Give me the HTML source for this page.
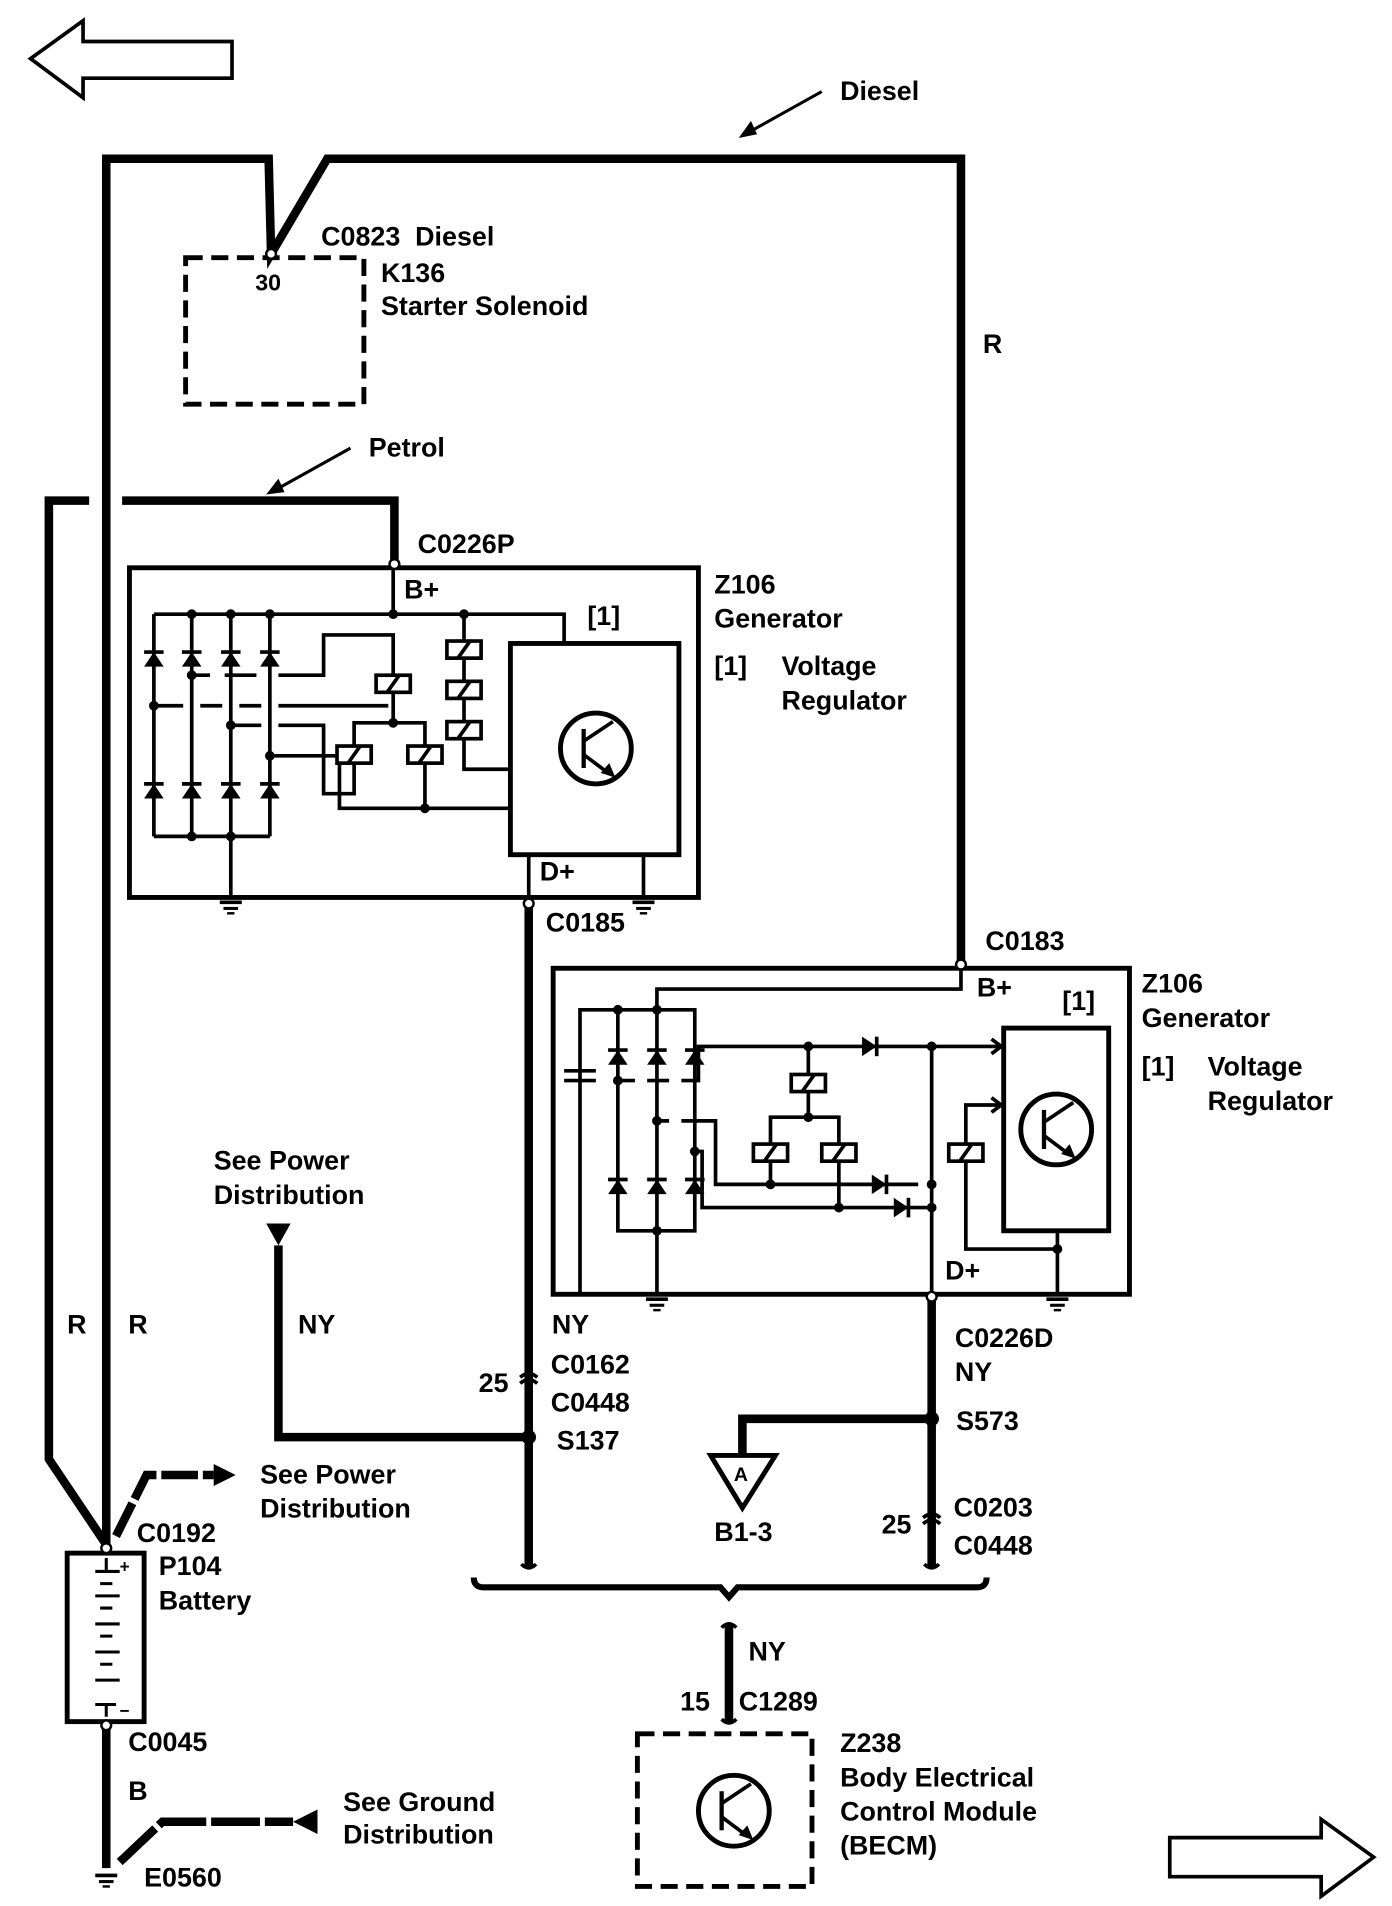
<!DOCTYPE html>
<html><head><style>html,body{margin:0;padding:0;background:#fff}svg{display:block}</style></head><body>
<svg width="1392" height="1906" viewBox="0 0 1140 1561" xmlns="http://www.w3.org/2000/svg" font-family="Liberation Sans, sans-serif" font-weight="bold" font-size="22">
<defs>
<g id="dd"><polygon points="-8,6 8,6 0,-6" fill="#000"/><line x1="-8" y1="-6" x2="8" y2="-6" stroke="#000" stroke-width="3"/></g>
<g id="dr"><polygon points="-6,-8 -6,8 6,0" fill="#000"/><line x1="6" y1="-8" x2="6" y2="8" stroke="#000" stroke-width="3"/></g>
<g id="rl"><rect x="-14" y="-7" width="28" height="14" fill="#fff" stroke="#000" stroke-width="3"/><line x1="-5" y1="7" x2="5" y2="-7" stroke="#000" stroke-width="3"/></g>
<g id="gnd"><line x1="-9" y1="2" x2="9" y2="2" stroke="#000" stroke-width="3"/><line x1="-6" y1="7" x2="6" y2="7" stroke="#000" stroke-width="2.5"/><line x1="-3" y1="11" x2="3" y2="11" stroke="#000" stroke-width="2"/></g>
<g id="tr"><circle r="29" fill="none" stroke="#000" stroke-width="4"/><line x1="-10" y1="-16" x2="-10" y2="16" stroke="#000" stroke-width="3.5"/><line x1="-10" y1="-6" x2="14" y2="-22" stroke="#000" stroke-width="3"/><line x1="-10" y1="5" x2="10" y2="20" stroke="#000" stroke-width="3"/><polygon points="16,24 4,20 11,12" fill="#000"/></g>
</defs>
<g fill="none" stroke="#000">
<polygon points="25,48 68,17 68,34 190,34 190,64 68,64 68,80" stroke-width="3"/>
<polygon points="958,1505 1082,1505 1082,1490 1125,1521 1082,1553 1082,1537 958,1537" stroke-width="3"/>
<g stroke-width="7">
<polyline points="87,1265 87,130 220,130 222,208 268,130 787,130 787,790"/>
<polyline points="100,410 323,410 323,462"/>
<polyline points="73,410 40,410 40,1195 87,1265"/>
<line x1="433" y1="740" x2="433" y2="1283"/>
<line x1="763" y1="1060" x2="763" y2="1283"/>
<polyline points="763,1162 608,1162 608,1192"/>
<polyline points="228,1020 228,1177 433,1177"/>
<line x1="597" y1="1330" x2="597" y2="1410"/>
<line x1="87" y1="1410" x2="87" y2="1530"/>
</g>
<polyline points="95,1258 120,1208 175,1208" stroke-width="7" stroke-dasharray="30,4"/>
<polyline points="98,1525 133,1492 240,1492" stroke-width="7" stroke-dasharray="40,4"/>
<path d="M427,1281 q6,6 12,0" stroke-width="3"/><path d="M757,1281 q6,6 12,0" stroke-width="3"/>
<path d="M591,1333 q6,-6 12,0" stroke-width="3"/><path d="M591,1408 q6,6 12,0" stroke-width="3"/>
<path d="M426,1128 q7,-6 14,0 M426,1133 q7,-6 14,0" stroke-width="3"/>
<path d="M756,1243 q7,-6 14,0 M756,1248 q7,-6 14,0" stroke-width="3"/>
<path d="M388,1292 q0,8 8,8 L590,1300 l7,8 l7,-8 L800,1300 q8,0 8,-8" stroke-width="5"/>
<line x1="673" y1="75" x2="612" y2="109" stroke-width="2.5"/>
<line x1="287" y1="367" x2="226" y2="401" stroke-width="2.5"/>
<rect x="152" y="211" width="146" height="120" stroke-width="4" stroke-dasharray="14,7"/>
<rect x="522" y="1420" width="143" height="125" stroke-width="4" stroke-dasharray="14,7"/>
<rect x="106" y="465" width="466" height="270" stroke-width="4"/>
<rect x="418" y="527" width="138" height="173" stroke-width="4"/>
<g stroke-width="3">
<polyline points="126,503 462,503 462,527"/>
<line x1="322" y1="462" x2="322" y2="503"/>
<line x1="126" y1="503" x2="126" y2="685"/><line x1="157" y1="503" x2="157" y2="685"/><line x1="189" y1="503" x2="189" y2="735"/><line x1="221" y1="503" x2="221" y2="685"/>
<line x1="126" y1="685" x2="221" y2="685"/>
<path d="M157,553 H172 M184,553 H210 M228,553 H265 V520 H322 V592"/>
<path d="M126,578 H150 M164,578 H182 M196,578 H214 M228,578 H318"/>
<path d="M189,594 H214 M228,594 H265 V650 H290 V618"/>
<polyline points="290,618 290,592 348,592 348,662"/>
<path d="M221,619 H278 V662 H418"/>
<polyline points="380,503 380,630 418,630"/>
<line x1="433" y1="700" x2="433" y2="735"/><line x1="527" y1="700" x2="527" y2="735"/>
</g>
<rect x="453" y="793" width="472" height="267" stroke-width="4"/>
<rect x="822" y="842" width="86" height="166" stroke-width="4"/>
<g stroke-width="3">
<polyline points="787,790 787,810 538,810 538,827"/>
<polyline points="475,1060 475,827 569,827 569,1008 506,1008 506,827"/>
<line x1="538" y1="827" x2="538" y2="1060"/>
<path d="M506,885 H520 M530,885 H548 M558,885 H572 V857 H818"/>
<path d="M538,918 H548 M558,918 H586 V970 H752 M762,970 H763"/>
<path d="M569,943 H575 V989 H763"/>
<polyline points="662,857 662,915"/><polyline points="631,970 631,915 687,915 687,989"/>
<line x1="763" y1="857" x2="763" y2="1060"/>
<polyline points="818,905 791,905 791,1023 866,1023"/>
<line x1="866" y1="1008" x2="866" y2="1060"/>
<path d="M812,851 l8,6 l-8,6 M812,899 l8,6 l-8,6"/>
</g>
<line x1="462" y1="877" x2="488" y2="877" stroke-width="3"/><line x1="462" y1="885" x2="488" y2="885" stroke-width="3"/>
<rect x="55" y="1272" width="63" height="138" stroke-width="4"/>
<g stroke-width="2.5"><path d="M87,1276 V1287 M78,1287 H98 M82,1297 H92 M78,1307 H98 M82,1317 H92 M78,1330 H98 M82,1340 H92 M78,1353 H98 M82,1363 H92 M78,1376 H98 M78,1396 H95 M87,1396 V1406"/></g>
<polygon points="582,1192 635,1192 608,1235" stroke-width="4"/>
</g>
<g fill="#000">
<polygon points="175,1199 193,1208 175,1217"/>
<polygon points="260,1482 240,1492 260,1502"/>
<polygon points="605,113 615,99 620,110"/>
<polygon points="218,405 228,392 233,403"/>
<polygon points="218,1002 238,1002 228,1020"/>
<circle cx="157" cy="503" r="4"/><circle cx="189" cy="503" r="4"/><circle cx="221" cy="503" r="4"/><circle cx="322" cy="503" r="4"/><circle cx="380" cy="503" r="4"/>
<circle cx="157" cy="553" r="4"/><circle cx="126" cy="578" r="4"/><circle cx="189" cy="594" r="4"/><circle cx="221" cy="619" r="4"/><circle cx="157" cy="685" r="4"/><circle cx="189" cy="685" r="4"/><circle cx="322" cy="592" r="4"/><circle cx="348" cy="662" r="4"/>
<circle cx="506" cy="827" r="4"/><circle cx="538" cy="827" r="4"/><circle cx="506" cy="885" r="4"/><circle cx="538" cy="918" r="4"/><circle cx="569" cy="943" r="4"/><circle cx="538" cy="1008" r="4"/>
<circle cx="662" cy="857" r="4"/><circle cx="662" cy="915" r="4"/><circle cx="631" cy="970" r="4"/><circle cx="687" cy="989" r="4"/><circle cx="763" cy="857" r="4"/><circle cx="763" cy="970" r="4"/><circle cx="763" cy="989" r="4"/><circle cx="866" cy="1023" r="4"/>
<circle cx="433" cy="1177" r="6"/><circle cx="763" cy="1162" r="6"/>
</g>
<g>
<use href="#dd" x="126" y="540"/><use href="#dd" x="157" y="540"/><use href="#dd" x="189" y="540"/><use href="#dd" x="221" y="540"/>
<use href="#dd" x="126" y="648"/><use href="#dd" x="157" y="648"/><use href="#dd" x="189" y="648"/><use href="#dd" x="221" y="648"/>
<use href="#dd" x="506" y="866"/><use href="#dd" x="538" y="866"/><use href="#dd" x="569" y="866"/>
<use href="#dd" x="506" y="972"/><use href="#dd" x="538" y="972"/><use href="#dd" x="569" y="972"/>
<use href="#dr" x="712" y="857"/><use href="#dr" x="720" y="970"/><use href="#dr" x="738" y="989"/>
<use href="#rl" x="322" y="560"/><use href="#rl" x="290" y="618"/><use href="#rl" x="348" y="618"/>
<use href="#rl" x="380" y="532"/><use href="#rl" x="380" y="565"/><use href="#rl" x="380" y="598"/>
<use href="#rl" x="662" y="887"/><use href="#rl" x="631" y="944"/><use href="#rl" x="687" y="944"/><use href="#rl" x="791" y="944"/>
<use href="#tr" x="488" y="613"/><use href="#tr" x="865" y="925"/><use href="#tr" x="601" y="1483"/>
<use href="#gnd" x="189" y="737"/><use href="#gnd" x="527" y="737"/><use href="#gnd" x="538" y="1062"/><use href="#gnd" x="866" y="1062"/><use href="#gnd" x="87" y="1534"/>
</g>
<g fill="#fff" stroke="#000" stroke-width="2">
<circle cx="222" cy="208" r="4"/><circle cx="323" cy="462" r="4"/><circle cx="433" cy="740" r="4"/><circle cx="787" cy="790" r="4"/><circle cx="763" cy="1062" r="4"/><circle cx="87" cy="1268" r="4"/><circle cx="87" cy="1413" r="4"/>
</g>
<g fill="#000">
<text x="688" y="82">Diesel</text>
<text x="263" y="201">C0823</text><text x="340" y="201">Diesel</text>
<text x="209" y="238" font-size="19">30</text>
<text x="312" y="231">K136</text><text x="312" y="258">Starter Solenoid</text>
<text x="805" y="289">R</text>
<text x="302" y="374">Petrol</text>
<text x="342" y="453">C0226P</text>
<text x="331" y="490">B+</text>
<text x="585" y="486">Z106</text><text x="585" y="514">Generator</text>
<text x="481" y="512">[1]</text>
<text x="585" y="553">[1]</text><text x="640" y="553">Voltage</text><text x="640" y="581">Regulator</text>
<text x="442" y="721">D+</text>
<text x="447" y="763">C0185</text>
<text x="807" y="778">C0183</text>
<text x="800" y="816">B+</text>
<text x="935" y="813">Z106</text><text x="935" y="841">Generator</text>
<text x="870" y="827">[1]</text>
<text x="935" y="881">[1]</text><text x="989" y="881">Voltage</text><text x="989" y="909">Regulator</text>
<text x="774" y="1048">D+</text>
<text x="175" y="958">See Power</text><text x="175" y="986">Distribution</text>
<text x="55" y="1092">R</text><text x="105" y="1092">R</text><text x="244" y="1092">NY</text><text x="452" y="1092">NY</text>
<text x="782" y="1103">C0226D</text><text x="782" y="1131">NY</text>
<text x="392" y="1140">25</text><text x="451" y="1125">C0162</text><text x="451" y="1156">C0448</text>
<text x="456" y="1187">S137</text><text x="783" y="1171">S573</text>
<text x="601" y="1213" font-size="16">A</text>
<text x="585" y="1262">B1-3</text>
<text x="722" y="1256">25</text><text x="781" y="1242">C0203</text><text x="781" y="1273">C0448</text>
<text x="213" y="1215">See Power</text><text x="213" y="1243">Distribution</text>
<text x="112" y="1263">C0192</text><text x="130" y="1290">P104</text><text x="130" y="1318">Battery</text>
<text x="98" y="1288" font-size="14">+</text><text x="98" y="1406" font-size="14">−</text>
<text x="105" y="1434">C0045</text>
<text x="105" y="1474">B</text>
<text x="281" y="1483">See Ground</text><text x="281" y="1510">Distribution</text>
<text x="118" y="1545">E0560</text>
<text x="613" y="1360">NY</text>
<text x="557" y="1401">15</text><text x="605" y="1401">C1289</text>
<text x="688" y="1435">Z238</text><text x="688" y="1463">Body Electrical</text><text x="688" y="1491">Control Module</text><text x="688" y="1519">(BECM)</text>
</g>
</svg>
</body></html>
